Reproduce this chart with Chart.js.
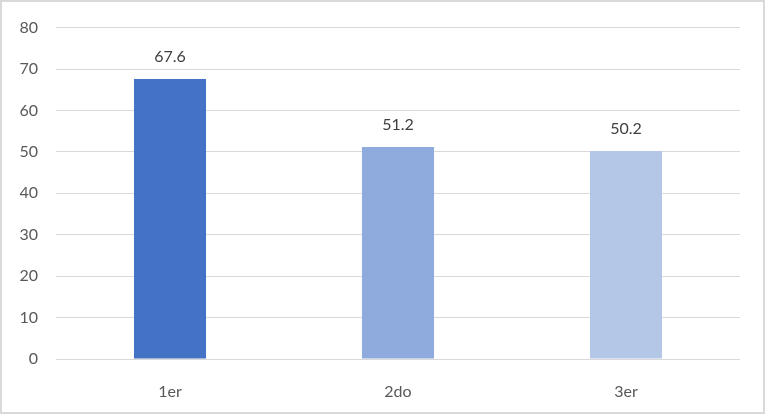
<!DOCTYPE html>
<html>
<head>
<meta charset="utf-8">
<script src="https://cdn.jsdelivr.net/npm/chart.js@4"></script>
<style>
  html, body { margin: 0; padding: 0; background: #fff; }
  #wrap { width: 765px; height: 414px; }
</style>
</head>
<body>
<div id="wrap"><canvas id="chart" width="765" height="414"></canvas></div>
<script>
var categories = ['1er', '2do', '3er'];
var values = [67.6, 51.2, 50.2];
var barColors = ['#4472C4', '#8FAADC', '#B4C7E7'];
var yTicks = [0, 10, 20, 30, 40, 50, 60, 70, 80];

var fontFamily = 'Lato, "Open Sans", sans-serif';

// etiquetas de valor encima de cada barra
var valueLabels = {
    id: 'valueLabels',
    afterDatasetsDraw: function(chart) {
        var ctx = chart.ctx;
        var meta = chart.getDatasetMeta(0);
        ctx.save();
        ctx.font = '16px ' + fontFamily;
        ctx.fillStyle = '#404040';
        ctx.textAlign = 'center';
        ctx.textBaseline = 'middle';
        meta.data.forEach(function(bar, i) {
            ctx.fillText(values[i].toFixed(1), bar.x, bar.y - 22);
        });
        ctx.restore();
    }
};

// marco gris alrededor del gráfico
var frame = {
    id: 'frame',
    beforeDraw: function(chart) {
        var ctx = chart.ctx;
        ctx.save();
        ctx.fillStyle = '#fff';
        ctx.fillRect(0, 0, chart.width, chart.height);
        ctx.strokeStyle = '#d9d9d9';
        ctx.lineWidth = 2;
        ctx.strokeRect(1, 1, chart.width - 2, chart.height - 2);
        ctx.restore();
    }
};

var ctx = document.getElementById('chart').getContext('2d');
var myChart = new Chart(ctx, {
    type: 'bar',
    data: {
        labels: categories,
        datasets: [{
            data: values,
            backgroundColor: barColors,
            barPercentage: 0.316,
            categoryPercentage: 1.0
        }]
    },
    plugins: [frame, valueLabels],
    options: {
        responsive: false,
        animation: false,
        layout: { padding: { top: 25, right: 25, left: 0, bottom: 0 } },
        plugins: {
            legend: { display: false },
            tooltip: { enabled: false }
        },
        scales: {
            x: {
                grid: { display: false },
                border: { display: false },
                ticks: {
                    color: '#595959',
                    font: { family: fontFamily, size: 16 },
                    padding: 15
                },
                afterFit: function(scale) { scale.height = 55; }
            },
            y: {
                min: 0,
                max: 80,
                afterBuildTicks: function(scale) {
                    scale.ticks = yTicks.map(function(v) { return { value: v }; });
                },
                grid: { color: '#d9d9d9', lineWidth: 1, drawTicks: false },
                border: { display: false },
                ticks: {
                    color: '#595959',
                    font: { family: fontFamily, size: 16 },
                    padding: 18
                },
                afterFit: function(scale) { scale.width = 56; }
            }
        }
    }
});
</script>
</body>
</html>
